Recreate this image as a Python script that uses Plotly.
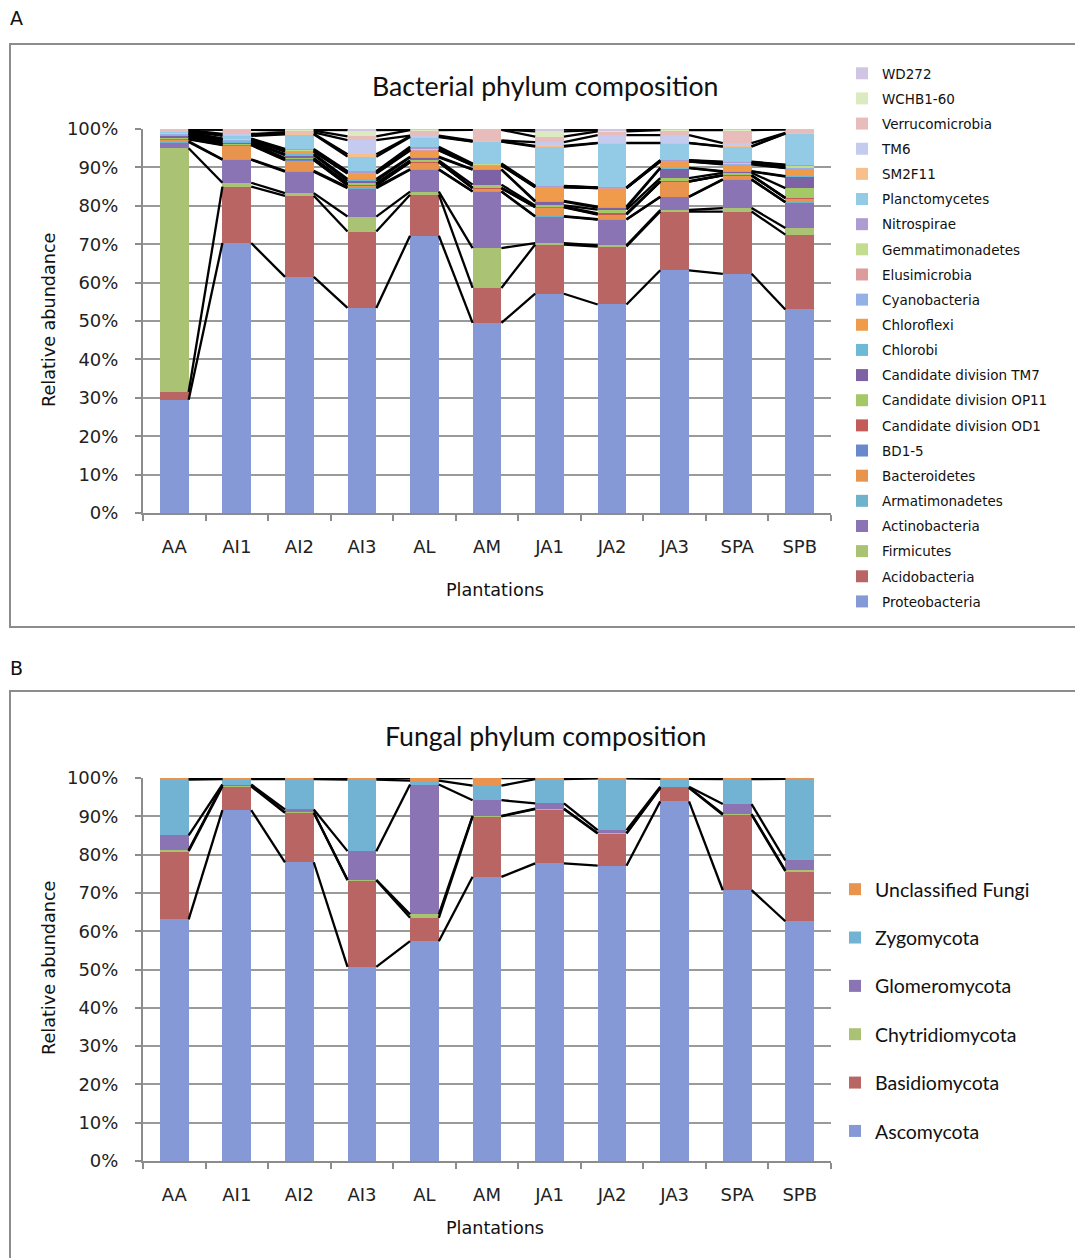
import numpy as np
import plotly.graph_objects as go

plantations = ["AA", "AI1", "AI2", "AI3", "AL", "AM", "JA1", "JA2", "JA3", "SPA", "SPB"]

# ---- Bacterial phyla (% relative abundance per plantation) ----
proteobacteria = [29.5, 70.3, 61.5, 53.4, 72.2, 49.5, 57.1, 54.3, 63.2, 62.3, 53.0]
acidobacteria = [2.0, 14.7, 21.1, 19.9, 10.7, 9.1, 12.8, 15.1, 15.3, 16.2, 19.5]
firmicutes = [63.5, 1.0, 0.7, 3.9, 0.8, 10.4, 0.4, 0.3, 0.4, 0.9, 1.7]
actinobacteria = [1.6, 6.0, 5.6, 7.4, 5.7, 14.7, 6.9, 6.7, 3.4, 7.4, 6.7]
armatimonadetes = [0.2, 0.1, 0.2, 0.3, 0.1, 0.1, 0.1, 0.1, 0.1, 0.1, 0.1]
bacteroidetes = [0.5, 3.7, 2.8, 0.4, 1.8, 0.8, 2.3, 1.2, 3.9, 1.0, 1.0]
bd1_5 = [0.1, 0.1, 0.1, 0.1, 0.1, 0.0, 0.1, 0.1, 0.0, 0.0, 0.0]
cd_od1 = [0.2, 0.1, 0.2, 0.2, 0.1, 0.1, 0.1, 0.2, 0.1, 0.1, 0.1]
cd_op11 = [0.3, 0.2, 0.2, 0.3, 0.3, 0.8, 0.3, 1.0, 0.8, 0.6, 2.5]
cd_tm7 = [0.3, 0.3, 0.8, 0.6, 0.8, 3.9, 1.0, 0.5, 2.6, 0.3, 3.0]
chlorobi = [0.1, 0.2, 0.3, 0.5, 0.2, 0.1, 0.2, 0.3, 0.1, 0.1, 0.1]
chloroflexi = [0.3, 0.4, 0.6, 1.4, 1.6, 1.0, 3.5, 4.8, 1.6, 1.8, 2.1]
cyanobacteria = [0.1, 0.1, 0.1, 0.1, 0.1, 0.1, 0.1, 0.0, 0.1, 0.1, 0.1]
elusimicrobia = [0.1, 0.1, 0.2, 0.1, 0.2, 0.1, 0.1, 0.1, 0.1, 0.2, 0.2]
gemmatimonadetes = [0.2, 0.1, 0.2, 0.2, 0.3, 0.2, 0.1, 0.0, 0.1, 0.2, 0.5]
nitrospirae = [0.1, 0.1, 0.2, 0.2, 0.4, 0.1, 0.1, 0.1, 0.1, 0.2, 0.1]
planctomycetes = [0.3, 0.7, 3.8, 3.8, 2.5, 5.7, 10.2, 11.5, 4.4, 3.9, 8.1]
sm2f11 = [0.1, 0.3, 0.2, 0.6, 0.2, 0.1, 0.2, 0.1, 0.1, 0.1, 0.1]
tm6 = [0.2, 0.2, 0.3, 3.7, 0.2, 0.2, 1.0, 2.0, 2.0, 0.8, 0.1]
verrucomicrobia = [0.2, 1.1, 0.5, 1.0, 1.4, 2.8, 1.4, 1.0, 1.3, 3.4, 0.9]
wchb1_60 = [0.05, 0.1, 0.2, 1.6, 0.1, 0.1, 1.4, 0.3, 0.2, 0.2, 0.05]
wd272 = [0.05, 0.1, 0.2, 0.3, 0.2, 0.1, 0.6, 0.3, 0.1, 0.1, 0.05]

bact_names = ["Proteobacteria", "Acidobacteria", "Firmicutes", "Actinobacteria",
              "Armatimonadetes", "Bacteroidetes", "BD1-5", "Candidate division OD1",
              "Candidate division OP11", "Candidate division TM7", "Chlorobi",
              "Chloroflexi", "Cyanobacteria", "Elusimicrobia", "Gemmatimonadetes",
              "Nitrospirae", "Planctomycetes", "SM2F11", "TM6", "Verrucomicrobia",
              "WCHB1-60", "WD272"]
bact_values = [proteobacteria, acidobacteria, firmicutes, actinobacteria,
               armatimonadetes, bacteroidetes, bd1_5, cd_od1, cd_op11, cd_tm7,
               chlorobi, chloroflexi, cyanobacteria, elusimicrobia, gemmatimonadetes,
               nitrospirae, planctomycetes, sm2f11, tm6, verrucomicrobia, wchb1_60, wd272]
bact_colors = ["#8499d6", "#b96563", "#a9c274", "#8a74b3", "#6fb2cb", "#e8944f",
               "#6a88cc", "#c45b58", "#a4c866", "#7d62a6", "#6cbad6", "#f09a4c",
               "#95b0e4", "#dc9c9b", "#c4dc8f", "#ad9bd1", "#93cbe6", "#f6bf8c",
               "#c4cbef", "#e7bcbb", "#dbebbf", "#d0c6e4"]

# ---- Fungal phyla ----
ascomycota = [63.1, 91.6, 78.0, 50.7, 57.4, 74.2, 77.7, 77.1, 93.9, 70.7, 62.6]
basidiomycota = [17.8, 6.2, 12.9, 22.6, 6.1, 15.8, 14.2, 8.4, 3.5, 19.7, 13.1]
chytridiomycota = [0.3, 0.3, 0.1, 0.1, 0.9, 0.1, 0.1, 0.1, 0.1, 0.2, 0.2]
glomeromycota = [3.8, 0.2, 0.8, 7.5, 33.9, 4.1, 1.4, 0.8, 0.2, 2.6, 2.6]
zygomycota = [14.6, 1.4, 7.9, 18.7, 1.0, 3.8, 6.3, 13.5, 2.1, 6.5, 21.3]
unclassified_fungi = [0.4, 0.3, 0.3, 0.4, 0.7, 2.0, 0.3, 0.1, 0.2, 0.3, 0.2]

fung_names = ["Ascomycota", "Basidiomycota", "Chytridiomycota", "Glomeromycota",
              "Zygomycota", "Unclassified Fungi"]
fung_values = [ascomycota, basidiomycota, chytridiomycota, glomeromycota,
               zygomycota, unclassified_fungi]
fung_colors = ["#8499d6", "#b96563", "#a9c274", "#8a74b3", "#72b3d3", "#e8944f"]

pct_ticks = list(range(0, 101, 10))
pct_labels = [f"{v}%" for v in pct_ticks]

W, H = 1075, 1258
BAR_W = 0.46
xpos = np.arange(len(plantations))


def px_x(v):
    return v / W


def px_y(v):
    return 1 - v / H


fig = go.Figure()


def add_chart(names, values, colors, xa, ya, legend):
    arr = np.array(values, dtype=float)
    arr = arr / arr.sum(axis=0) * 100.0
    cum = np.cumsum(arr, axis=0)
    n = len(names)
    for i, (nm, col) in enumerate(zip(names, colors)):
        fig.add_trace(go.Bar(
            x=xpos, y=arr[i], name=nm, width=BAR_W,
            marker=dict(color=col, line=dict(width=0)),
            xaxis=xa, yaxis=ya, legend=legend, legendgroup=legend + nm,
            legendrank=100 + n - i,
        ))
    lx, ly = [], []
    for i in range(n):
        for j in range(len(plantations) - 1):
            lx += [xpos[j] + BAR_W / 2, xpos[j + 1] - BAR_W / 2, None]
            ly += [cum[i, j], cum[i, j + 1], None]
    fig.add_trace(go.Scatter(x=lx, y=ly, mode="lines", showlegend=False,
                             line=dict(color="black", width=2.3),
                             hoverinfo="skip", xaxis=xa, yaxis=ya))


add_chart(bact_names, bact_values, bact_colors, "x", "y", "legend")
add_chart(fung_names, fung_values, fung_colors, "x2", "y2", "legend2")

tickfont = dict(family="DejaVu Sans", size=18, color="#222222")
xcommon = dict(range=[-0.5, len(plantations) - 0.5], tickmode="array",
               tickvals=list(xpos), ticktext=plantations, tickfont=tickfont,
               showgrid=False, zeroline=False, showline=True, linecolor="#8c8c8c",
               linewidth=2, ticks="", fixedrange=True, automargin=False,
               ticklabelstandoff=16,
               minor=dict(ticks="outside", tick0=-0.5, dtick=1, ticklen=6,
                          tickcolor="#8c8c8c", tickwidth=2, showgrid=False))
ycommon = dict(range=[0, 100], tickmode="array", tickvals=pct_ticks,
               ticktext=pct_labels, tickfont=tickfont, showgrid=True,
               gridcolor="#9a9a9a", gridwidth=2, zeroline=False, showline=True,
               linecolor="#8c8c8c", linewidth=2, ticks="outside", ticklen=6,
               tickcolor="#8c8c8c", tickwidth=2, fixedrange=True, automargin=False,
               ticklabelstandoff=13)

x0, x1 = px_x(143), px_x(831)
fig.update_layout(
    width=W, height=H,
    margin=dict(l=0, r=0, t=0, b=0, autoexpand=False),
    paper_bgcolor="white", plot_bgcolor="white",
    barmode="stack", bargap=0.5,
    xaxis=dict(domain=[x0, x1], anchor="y", **xcommon),
    yaxis=dict(domain=[px_y(513), px_y(129)], anchor="x", **ycommon),
    xaxis2=dict(domain=[x0, x1], anchor="y2", **xcommon),
    yaxis2=dict(domain=[px_y(1161), px_y(778)], anchor="x2", **ycommon),
    legend=dict(x=px_x(842), y=px_y(58), xanchor="left", yanchor="top",
                traceorder="grouped", tracegroupgap=4.6,
                font=dict(family="DejaVu Sans", size=13.5, color="#111111"),
                bgcolor="rgba(0,0,0,0)", itemwidth=30),
    legend2=dict(x=px_x(835), y=px_y(870), xanchor="left", yanchor="top",
                 traceorder="grouped", tracegroupgap=20,
                 font=dict(family="Lato", size=19.5, color="#111111"),
                 bgcolor="rgba(0,0,0,0)", itemwidth=30),
    showlegend=True,
)

ann = []
title_font = dict(family="Lato", size=26.7, color="#111111")
axis_font = dict(family="DejaVu Sans", size=17.6, color="#111111")


def label(text, x, y, font, angle=0):
    ann.append(dict(text=text, x=px_x(x), y=px_y(y), xref="paper", yref="paper",
                    xanchor="center", yanchor="middle", showarrow=False,
                    textangle=angle, font=font))


label("Bacterial phylum composition", 545, 86, title_font)
label("Fungal phylum composition", 545, 736, title_font)
for yc in (320, 968):
    label("Relative abundance", 49, yc, axis_font, -90)
for yc in (590, 1228):
    label("Plantations", 495, yc, axis_font)
big = dict(family="DejaVu Sans", size=19, color="#111111")
label("A", 16, 18, big)
label("B", 16, 668, big)
fig.update_layout(annotations=ann)

fig.add_shape(type="rect", xref="paper", yref="paper",
              x0=px_x(10), x1=px_x(1080), y0=px_y(627), y1=px_y(44),
              line=dict(color="#8c8c8c", width=2), layer="below")
fig.add_shape(type="rect", xref="paper", yref="paper",
              x0=px_x(10), x1=px_x(1080), y0=px_y(1264), y1=px_y(691),
              line=dict(color="#8c8c8c", width=2), layer="below")

fig.write_html("out.html", config={"displayModeBar": False},
               post_script="document.body.style.margin='0';document.body.style.overflow='hidden';")
